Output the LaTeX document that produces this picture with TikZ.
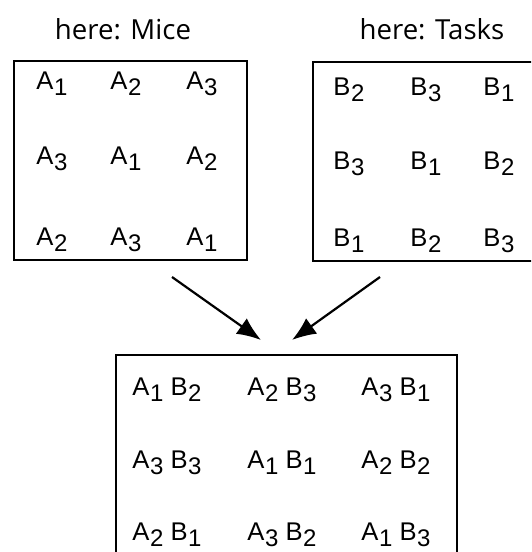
\documentclass[tikz,border=0pt]{standalone}
\usepackage{fontspec}
\setmainfont{Liberation Sans}
\newfontfamily\headfont{Open Sans}
\usetikzlibrary{arrows.meta}

% factor level with a lowered index, e.g. \lvl{A}{1}
\newcommand{\lvl}[2]{#1\kern0.3pt\raisebox{-3.3pt}{\fontsize{12}{14}\selectfont #2}}

\begin{document}
\begin{tikzpicture}[
			x=0.5pt,y=-0.5pt,
			font=\fontsize{12.8}{15}\selectfont,
			panel/.style={
				rectangle,draw,line width=0.9pt,
				anchor=north west,inner sep=0pt
			},
			cell/.style={anchor=base west,inner sep=0pt},
			heading/.style={
				anchor=base,inner sep=0pt,
				font=\headfont\fontsize{13.8}{16}\selectfont
			},
			arrow/.style={-{Latex[length=12pt,width=9.5pt]},line width=1.1pt}
			]
			
			\path[use as bounding box,clip] (0,0) rectangle (531,552);
			
			% the two squares that are crossed
			\node[heading] (micehead) at (123,39) {here: Mice};
			\node[heading] (taskhead) at (432,39) {here: Tasks};
			
			\node[panel,minimum width=116.5pt,minimum height=99.5pt] (mice) at (13,60) {};
			\node[panel,minimum width=116.5pt,minimum height=99.5pt] (tasks) at (312,61) {};
			
			\node[cell] (m11) at (36,89) {\lvl{A}{1}};
			\node[cell] (m12) at (110,89) {\lvl{A}{2}};
			\node[cell] (m13) at (186,89) {\lvl{A}{3}};
			\node[cell] (m21) at (36,164) {\lvl{A}{3}};
			\node[cell] (m22) at (110,164) {\lvl{A}{1}};
			\node[cell] (m23) at (186,164) {\lvl{A}{2}};
			\node[cell] (m31) at (36,245) {\lvl{A}{2}};
			\node[cell] (m32) at (110,245) {\lvl{A}{3}};
			\node[cell] (m33) at (186,245) {\lvl{A}{1}};
			
			\node[cell] (t11) at (333,95) {\lvl{B}{2}};
			\node[cell] (t12) at (410,95) {\lvl{B}{3}};
			\node[cell] (t13) at (483,95) {\lvl{B}{1}};
			\node[cell] (t21) at (333,169) {\lvl{B}{3}};
			\node[cell] (t22) at (410,169) {\lvl{B}{1}};
			\node[cell] (t23) at (483,169) {\lvl{B}{2}};
			\node[cell] (t31) at (333,246) {\lvl{B}{1}};
			\node[cell] (t32) at (410,246) {\lvl{B}{2}};
			\node[cell] (t33) at (483,246) {\lvl{B}{3}};
			
			% the combined square
			\node[panel,minimum width=170.5pt,minimum height=105pt] (design) at (115,354) {};
			
			\node[cell] (d11) at (132,395) {\lvl{A}{1} \lvl{B}{2}};
			\node[cell] (d12) at (247,395) {\lvl{A}{2} \lvl{B}{3}};
			\node[cell] (d13) at (361,395) {\lvl{A}{3} \lvl{B}{1}};
			\node[cell] (d21) at (132,468) {\lvl{A}{3} \lvl{B}{3}};
			\node[cell] (d22) at (247,468) {\lvl{A}{1} \lvl{B}{1}};
			\node[cell] (d23) at (361,468) {\lvl{A}{2} \lvl{B}{2}};
			\node[cell] (d31) at (132,540) {\lvl{A}{2} \lvl{B}{1}};
			\node[cell] (d32) at (247,540) {\lvl{A}{3} \lvl{B}{2}};
			\node[cell] (d33) at (361,540) {\lvl{A}{1} \lvl{B}{3}};
			
			\coordinate (miceout) at (172,277);
			\coordinate (taskout) at (380,277);
			\coordinate (designinl) at (261,340);
			\coordinate (designinr) at (292,340);
			
			\draw[arrow] (miceout) -- (designinl);
			\draw[arrow] (taskout) -- (designinr);
			
		\end{tikzpicture}
\end{document}
